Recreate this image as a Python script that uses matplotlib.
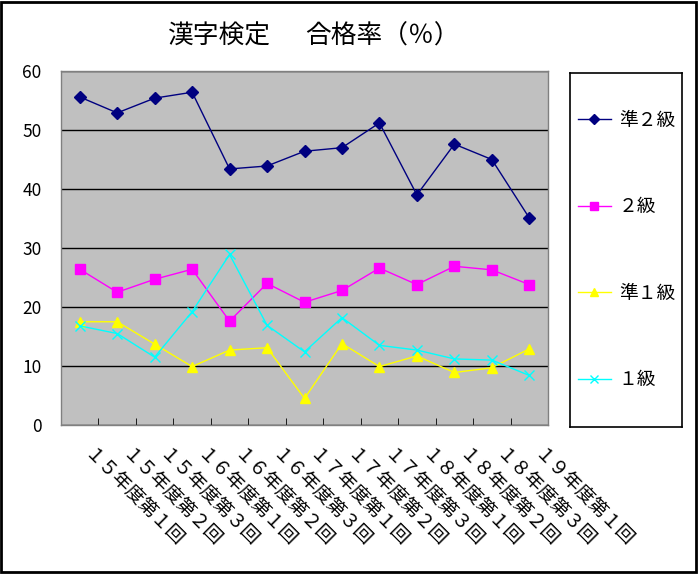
import matplotlib
matplotlib.use("Agg")
import matplotlib.pyplot as plt
from matplotlib.patches import Rectangle
from matplotlib.transforms import ScaledTranslation

plt.rcParams['font.family'] = ['Noto Sans CJK JP', 'DejaVu Sans']

# data
categories = ['１５年度第１回', '１５年度第２回', '１５年度第３回',
              '１６年度第１回', '１６年度第２回', '１６年度第３回',
              '１７年度第１回', '１７年度第２回', '１７年度第３回',
              '１８年度第１回', '１８年度第２回', '１８年度第３回',
              '１９年度第１回']
jun2 = [55.6, 52.9, 55.4, 56.4, 43.4, 43.9, 46.4, 47.0, 51.2, 39.0, 47.6, 45.0, 35.1]
kyu2 = [26.4, 22.5, 24.7, 26.4, 17.6, 24.0, 20.8, 22.8, 26.6, 23.8, 26.9, 26.3, 23.8]
jun1 = [17.5, 17.5, 13.7, 9.9, 12.7, 13.1, 4.5, 13.8, 9.9, 11.7, 8.9, 9.7, 12.9]
kyu1 = [16.8, 15.5, 11.5, 19.2, 28.9, 16.9, 12.4, 18.2, 13.5, 12.7, 11.2, 11.0, 8.4]
series_names = ['準２級', '２級', '準１級', '１級']
yticks = [0, 10, 20, 30, 40, 50, 60]

W, H = 699, 574
fig = plt.figure(figsize=(W / 100, H / 100), dpi=100)

# outer frame
fig.patches.append(Rectangle((0.002, 0.004), 0.994, 0.993, transform=fig.transFigure,
                             fill=False, edgecolor='black', linewidth=2))

ax = fig.add_axes([61 / W, (H - 425) / H, 487 / W, 354 / H])
ax.set_facecolor('#C0C0C0')
for s in ax.spines.values():
    s.set_color('#808080')
    s.set_linewidth(1)

x = list(range(len(categories)))
styles = [
    dict(color='#000080', marker='D', markersize=6),
    dict(color='#FF00FF', marker='s', markersize=6.5),
    dict(color='#FFFF00', marker='^', markersize=7.5),
    dict(color='#00FFFF', marker='x', markersize=6.5, markeredgewidth=1),
]
lines = []
for vals, name, st in zip([jun2, kyu2, jun1, kyu1], series_names, styles):
    ln, = ax.plot(x, vals, linewidth=1, label=name, **st)
    lines.append(ln)

ax.set_ylim(0, 60)
ax.set_yticks(yticks)
ax.set_yticklabels([str(v) for v in yticks], fontsize=12.5)
ax.tick_params(axis='y', length=0, pad=14)
ax.yaxis.grid(True, color='black', linewidth=1)
ax.set_axisbelow(True)

ax.set_xlim(-0.5, len(categories) - 0.5)
ax.set_xticks(x)
ax.set_xticklabels(categories, fontsize=13.5, rotation=-45, ha='left',
                   va='center', rotation_mode='anchor')
ax.tick_params(axis='x', length=0, pad=21)
shift = ScaledTranslation(7 / 100, 2 / 100, fig.dpi_scale_trans)
for lab in ax.get_xticklabels():
    lab.set_transform(lab.get_transform() + shift)
ax.set_xticks([i + 0.5 for i in x[:-1]], minor=True)
ax.tick_params(axis='x', which='minor', direction='in', length=5, color='black')

# title: two parts placed to match the wide spacing of the original
fig.text(219 / W, 1 - 37 / H, '漢字検定', fontsize=18.5, ha='center', va='center')
fig.text(382 / W, 1 - 37 / H, '合格率（％）', fontsize=18.5, ha='center', va='center')

# legend box
lax = fig.add_axes([570 / W, (H - 427) / H, 112 / W, 354 / H])
lax.set_xticks([])
lax.set_yticks([])
for s in lax.spines.values():
    s.set_color('black')
    s.set_linewidth(1.2)
lax.legend(handles=lines, loc='center left', frameon=False, fontsize=13.5,
           labelspacing=3.5, handlelength=1.8, handletextpad=0.4,
           borderaxespad=0.0, markerscale=0.8)

fig.savefig('out.png', dpi=100)
